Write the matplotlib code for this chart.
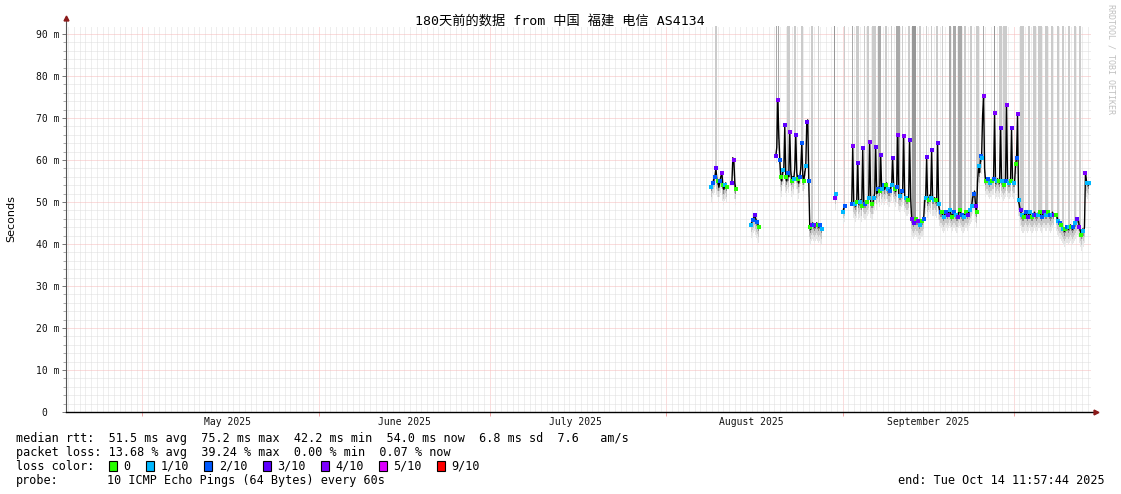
import numpy as np
import pandas as pd
import matplotlib
matplotlib.use('Agg')
import matplotlib.pyplot as plt
import matplotlib.dates as mdates
from matplotlib.ticker import MultipleLocator, FuncFormatter, NullFormatter
from matplotlib.patches import Rectangle

nan = np.nan

# graph window: 180 days ending at the "end:" stamp
end_time = pd.Timestamp('2025-10-14 11:57:44')
start_time = end_time - pd.Timedelta(days=180)

# consolidated rrd samples, one every ~4.21 h
first_sample = pd.Timestamp('2025-08-08 20:00')
step_hours = 4.21

# median rtt (ms) per sample, nan = no data
median_ms = (
    [53.5, 53.5, 54.5, 55.5, 56.0, 58.0, 55.5, 55.0, 53.5, 55.0, 56.0, 57.0, 54.0, 53.0, 54.0, 54.5, 53.5]
    + [nan] * 4
    + [54.5, 60.5, 60.0, 54.5, 53.0]
    + [nan] * 14
    + [44.5, 45.3, 45.8, 46.3, 46.9, 46.0, 45.3, 44.8, 44.1]
    + [nan] * 16
    + [61.0, 63.0, 74.3, 66.0, 60.0, 56.0, 55.0, 57.5, 58.0, 68.3,
       56.0, 55.0, 57.0, 56.0, 66.7, 57.5, 55.0, 56.0, 55.5, 58.0,
       66.0, 57.0, 55.5, 54.5, 56.0, 58.0, 64.0, 56.5, 55.0, 57.0,
       58.5, 69.0, 69.5, 55.0, 44.0, 43.5, 44.5, 45.0, 44.5, 44.0,
       44.5, 45.0, 44.5, 44.0, 44.5, 44.0, 43.5]
    + [nan] * 12
    + [51.0, 52.0]
    + [nan] * 6
    + [47.5, 48.5, 49.0]
    + [nan] * 6
    + [49.5, 63.3, 50.0, 49.5, 49.0, 50.0, 59.3, 49.5, 50.0, 50.5,
       49.0, 62.9, 50.0, 49.5, 49.5, 50.0, 50.5, 51.0, 64.4, 50.0,
       49.5, 49.5, 51.0, 52.0, 63.2, 52.0, 53.0, 53.5, 52.5, 61.2,
       53.0, 53.5, 54.0, 53.0, 54.0, 54.5, 53.0, 52.5, 52.5, 53.5,
       54.0, 60.4, 53.5, 53.0, 52.5, 53.5, 66.0, 52.0, 51.5, 51.5,
       52.5, 53.0, 65.6, 51.5, 51.0, 50.5, 50.5, 51.0, 64.8, 51.0,
       46.0, 45.5, 45.0, 45.5, 46.0, 45.5, 45.5, 45.0, 44.5, 45.0,
       45.5, 45.5, 46.0, 50.5, 51.0, 60.8, 50.0, 50.5, 51.5, 51.0,
       62.4, 50.5, 50.5, 51.0, 50.5, 50.0, 64.0, 49.5, 48.0, 47.5,
       47.5, 47.0, 46.5, 47.0, 47.5, 47.5, 47.0, 47.5, 48.0, 47.5,
       46.5, 47.0, 47.5, 47.5, 47.0, 46.5, 46.5, 47.5, 48.0, 47.5,
       47.0, 46.5, 46.5, 47.0, 47.5, 47.5, 47.0, 47.5, 48.0, 48.5,
       49.0, 51.0, 52.0, 52.5, 49.0, 47.5, 55.0, 58.5, 57.0, 61.0,
       60.5, 70.5, 75.2, 58.0, 55.0, 55.5, 55.5, 55.0, 54.5, 55.0,
       55.0, 55.5, 55.5, 71.3, 54.5, 55.0, 55.5, 55.0, 54.5, 67.5,
       55.0, 54.5, 54.0, 54.5, 55.0, 73.0, 55.0, 54.5, 54.5, 55.0,
       67.5, 55.0, 54.5, 54.5, 59.0, 60.5, 71.0, 50.5, 49.0, 48.0,
       47.0, 46.5, 46.5, 47.0, 47.5, 47.0, 46.5, 47.0, 47.5, 47.0,
       46.5, 46.5, 47.0, 47.5, 47.0, 46.5, 47.0, 47.5, 47.5, 47.0,
       46.5, 47.0, 47.5, 47.5, 47.0, 47.0, 47.5, 47.5, 47.0, 46.5,
       47.0, 47.5, 47.0, nan, nan, 47.0, 46.0, 45.5, 45.0, 45.0,
       44.5, 44.0, 43.5, 43.0, 43.5, 44.0, 44.0, 43.5, 44.0, 44.5,
       44.0, 43.5, 44.0, 44.5, 45.0, 45.5, 46.0, 45.5, 44.0, 43.0,
       42.2, 43.5, 43.0, 44.0, 56.8, 55.0, 54.5, 54.0, 54.5]
)

# loss (tenths) shown as a coloured dot on the median, '.' = no dot
loss_tenths = (
    "1.2.23.0.2.40.1.0" + "." * 4 + "3.4.0" + "." * 14 + "1.2.3.2.0" + "." * 16
    + "3.4.20.1.30.2.4.0.1.3.0.2.2.0.13.20.3.2.4.0.2.1" + "." * 12 + "41" + "." * 6 + "1.2" + "." * 6
    + "24.1.03.1." + "03.2.0.14." + "0.1.3.2.03" + "1.2.0.1.2." + "13.0.24.1."
    + "2.4.1.0.3." + "4.3.0.4.1." + "0.2.13.0.1" + "3.1.0.31.2" + "0.1.2.3.1."
    + "0.2.1.3.0." + "2.1.0.3.1." + "1.2.30.1.2" + "1.4.0.2.1." + "0.24.1.0.3"
    + "1.0.24.1.0" + "3.1.0241.3" + "1.0.2.3.1." + "0.2.3.1.0." + "2.3.1.0.2."
    + "1.3..0.1.2" + "0.1.0.2.1." + "0.2.1.3.4." + "0.1.4.1.1"
)

# smoke of very slow pings reaching the top of the graph, 1 light .. 3 dark
spike_level = (
    ".....11..." ".........." ".........." ".........." ".........."
    ".........." "......2.2." ".......111" "....11...." ".11......."
    ".11.....1." ".........." "....3....." "....1....." "..2...111."
    "....1..11." "..1111..22" "2....11..." ".1....2222" "..1.....11"
    "..3333...1" "1.....1..." ".1....11.." "..1......2" "2..222..22"
    "22..11...." "11....111." "...2......" "....3....1" "11.1111..."
    ".........." "1111....11" "...111..11" "11...111.." ".11....11."
    "..11....11" "....11...1" "1........."
)

# smoke spread below the median (ms) and its grey levels
smoke_depth = [3.8, 2.4, 1.0]
smoke_colors = ['#e6e6e6', '#c8c8c8', '#8a8a8a']

loss_labels = ['0', '1/10', '2/10', '3/10', '4/10', '5/10', '9/10']
loss_colors = {'0': '#26ff00', '1': '#00b8ff', '2': '#0059ff', '3': '#5e00ff',
               '4': '#7e00ff', '5': '#dd00ff', '9': '#ff0000'}
spike_colors = {'1': '#cbcbcb', '2': '#a9a9a9', '3': '#979797'}

plt.rcParams['font.family'] = ['DejaVu Sans Mono', 'Noto Sans CJK SC']

W, H = 1121, 494
fig = plt.figure(figsize=(W / 100, H / 100), dpi=100)
fig.patch.set_facecolor('white')


def fx(x):
    return x / W


def fy(y):
    return 1 - y / H


y_top = 91.9
ax = fig.add_axes([fx(65.5), fy(412), 1025 / W, 386 / H])
ax.set_facecolor('white')

med = np.array(median_ms, dtype=float)
t = mdates.date2num(first_sample.to_pydatetime()) + np.arange(len(med)) * step_hours / 24
step_days = step_hours / 24

# high smoke spikes
for i, lv in enumerate(spike_level):
    if lv != '.' and not np.isnan(med[i]):
        ax.bar(t[i], y_top - med[i], bottom=med[i], width=step_days,
               color=spike_colors[lv], linewidth=0, zorder=2)

# smoke around median
for depth, col in zip(smoke_depth, smoke_colors):
    ax.fill_between(t, med - depth, med + 0.3, step='mid', color=col, linewidth=0, zorder=3)

ax.plot(t, med, color='black', linewidth=1.0, zorder=4)
for i, c in enumerate(loss_tenths):
    if c != '.' and not np.isnan(med[i]):
        ax.plot(t[i], med[i], marker='s', markersize=2.2, markeredgewidth=0,
                color=loss_colors[c], zorder=5)

ax.set_xlim(mdates.date2num(start_time.to_pydatetime()), mdates.date2num(end_time.to_pydatetime()))
ax.set_ylim(0, y_top)

ax.xaxis.set_major_locator(mdates.MonthLocator())
ax.xaxis.set_minor_locator(mdates.DayLocator())
ax.xaxis.set_major_formatter(NullFormatter())
ax.yaxis.set_major_locator(MultipleLocator(10))
ax.yaxis.set_minor_locator(MultipleLocator(2))
ax.yaxis.set_major_formatter(FuncFormatter(lambda v, p: '0  ' if v == 0 else '%d m' % v))

ax.grid(True, which='minor', color='#dedede', linestyle=(0, (1, 1)), linewidth=0.72, zorder=0)
ax.grid(True, which='major', color='#f6baba', linestyle=(0, (1, 1)), linewidth=0.72, zorder=0)
ax.set_axisbelow(True)

ax.tick_params(axis='y', which='major', length=3, width=0.7, color='#777777', pad=1.5,
               labelsize=7, labelcolor='#111111')
ax.tick_params(axis='y', which='minor', length=2, width=0.7, color='#aaaaaa')
ax.tick_params(axis='x', which='major', length=3, width=0.7, color='#f2a4a4')
ax.tick_params(axis='x', which='minor', length=0)

for s in ax.spines.values():
    s.set_visible(False)

# axes with arrow heads
ax.plot([0, 0], [0, 1 + 5 / 386], transform=ax.transAxes, color='#555555', lw=0.8, clip_on=False, zorder=6)
ax.plot([0], [1 + 8 / 386], transform=ax.transAxes, marker='^', markersize=3.5,
        color='#8b1a1a', clip_on=False, zorder=6)
ax.plot([0, 1 + 3 / 1025], [0, 0], transform=ax.transAxes, color='black', lw=1.0, clip_on=False, zorder=6)
ax.plot([1 + 5 / 1025], [0], transform=ax.transAxes, marker='>', markersize=3.5,
        color='#8b1a1a', clip_on=False, zorder=6)

# month labels in the middle of each month
for m in ['2025-05-16', '2025-06-16', '2025-07-16', '2025-08-16', '2025-09-16']:
    d = pd.Timestamp(m)
    ax.text(mdates.date2num(d.to_pydatetime()), -9.5 / 386, d.strftime('%B %Y'),
            transform=ax.get_xaxis_transform(), ha='center', va='center', fontsize=7, color='#111111')

fig.text(fx(560), fy(21), '180天前的数据 from 中国 福建 电信 AS4134', ha='center', va='center',
         fontsize=9.5, color='black')
fig.text(fx(11), fy(219), 'Seconds', rotation=90, ha='center', va='center',
         fontsize=8, family='DejaVu Sans', color='black')
fig.text(fx(1111), fy(4), 'RRDTOOL / TOBI OETIKER', rotation=270, ha='center', va='top',
         fontsize=6, color='#c0c0c0')

lfs = 8.5
rows = [438, 452, 466, 480]
fig.text(fx(16), fy(rows[0]),
         'median rtt:  51.5 ms avg  75.2 ms max  42.2 ms min  54.0 ms now  6.8 ms sd  7.6   am/s',
         ha='left', va='center', fontsize=lfs)
fig.text(fx(16), fy(rows[1]),
         'packet loss: 13.68 % avg  39.24 % max  0.00 % min  0.07 % now',
         ha='left', va='center', fontsize=lfs)

fig.text(fx(16), fy(rows[2]), 'loss color:', ha='left', va='center', fontsize=lfs)
box_x = [108.5, 146, 204, 262.5, 320.5, 378.6, 436.6]
for lab, bx in zip(loss_labels, box_x):
    key = lab.split('/')[0]
    fig.patches.append(Rectangle((fx(bx), fy(rows[2] + 5)), 8 / W, 10 / H, transform=fig.transFigure,
                                 facecolor=loss_colors[key], edgecolor='black', linewidth=0.8))
    fig.text(fx(bx + 15), fy(rows[2]), lab, ha='left', va='center', fontsize=lfs)

fig.text(fx(16), fy(rows[3]), 'probe:', ha='left', va='center', fontsize=lfs)
fig.text(fx(107), fy(rows[3]), '10 ICMP Echo Pings (64 Bytes) every 60s', ha='left', va='center', fontsize=lfs)
fig.text(fx(1104.5), fy(rows[3]), 'end: Tue Oct 14 11:57:44 2025', ha='right', va='center', fontsize=lfs)

fig.savefig('out.png', dpi=100)
